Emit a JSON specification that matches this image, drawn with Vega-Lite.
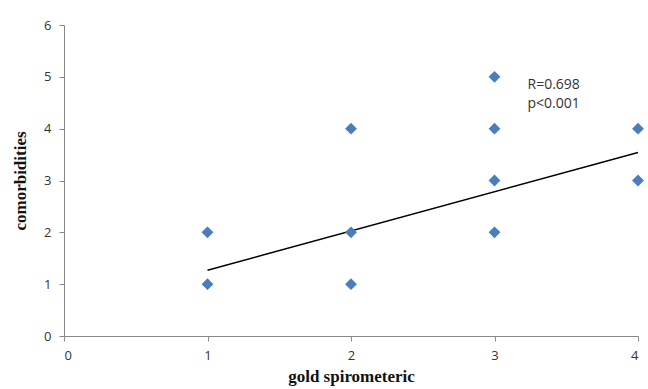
{
  "$schema": "https://vega.github.io/schema/vega-lite/v6.json",
  "width": 574,
  "height": 311,
  "autosize": {"type": "none"},
  "padding": {"left": 64, "top": 25, "right": 10, "bottom": 53},
  "background": "white",
  "config": {"view": {"stroke": null}},
  "datasets": {
    "points": [
      {"gold": 1, "comorb": 2}, {"gold": 1, "comorb": 1},
      {"gold": 2, "comorb": 4}, {"gold": 2, "comorb": 2}, {"gold": 2, "comorb": 1},
      {"gold": 3, "comorb": 5}, {"gold": 3, "comorb": 4}, {"gold": 3, "comorb": 3}, {"gold": 3, "comorb": 2},
      {"gold": 4, "comorb": 4}, {"gold": 4, "comorb": 3}
    ],
    "trend": [{"gold": 1, "comorb": 1.27}, {"gold": 4, "comorb": 3.54}],
    "notes": [{"gold": 3.23, "comorb": 4.85, "label": "R=0.698"}, {"gold": 3.23, "comorb": 4.48, "label": "p<0.001"}]
  },
  "layer": [
    {
      "data": {"name": "trend"},
      "mark": {"type": "line", "color": "black", "strokeWidth": 1.5},
      "encoding": {
        "x": {"field": "gold", "type": "quantitative", "scale": {"domain": [0, 4]},
          "axis": {"title": "gold spirometeric", "values": [0, 1, 2, 3, 4], "format": "d", "grid": false,
            "domainColor": "#888", "tickColor": "#888", "tickSize": 5, "labelFont": "Open Sans",
            "labelFontSize": 13, "labelColor": "#333", "labelPadding": 8,
            "titleFont": "Liberation Serif", "titleFontSize": 17, "titleFontWeight": "bold",
            "titleColor": "#111", "titlePadding": 6}},
        "y": {"field": "comorb", "type": "quantitative", "scale": {"domain": [0, 6]},
          "axis": {"title": "comorbidities", "values": [0, 1, 2, 3, 4, 5, 6], "format": "d", "grid": false,
            "domainColor": "#888", "tickColor": "#888", "tickSize": 5, "labelFont": "Open Sans",
            "labelFontSize": 13, "labelColor": "#333", "labelPadding": 8,
            "titleFont": "Liberation Serif", "titleFontSize": 17, "titleFontWeight": "bold",
            "titleColor": "#111", "titlePadding": 14}}
      }
    },
    {
      "data": {"name": "points"},
      "mark": {"type": "point", "shape": "diamond", "filled": true, "color": "#4a7ebb", "size": 140, "opacity": 1},
      "encoding": {
        "x": {"field": "gold", "type": "quantitative"},
        "y": {"field": "comorb", "type": "quantitative"}
      }
    },
    {
      "data": {"name": "notes"},
      "mark": {"type": "text", "align": "left", "baseline": "middle", "font": "Open Sans", "fontSize": 14, "color": "#333"},
      "encoding": {
        "x": {"field": "gold", "type": "quantitative"},
        "y": {"field": "comorb", "type": "quantitative"},
        "text": {"field": "label"}
      }
    }
  ]
}
